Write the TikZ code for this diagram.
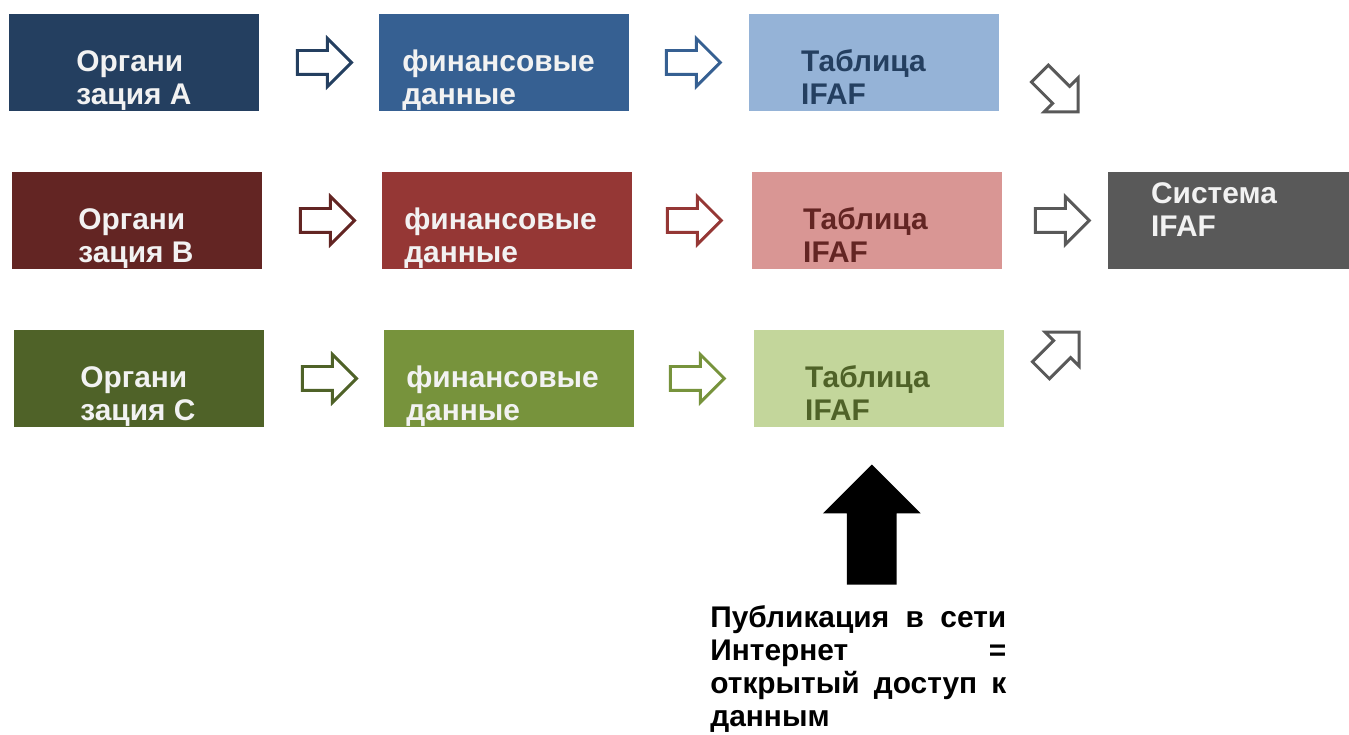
\documentclass[tikz,border=0pt]{standalone}
\usepackage{fontspec}
\setmainfont{Liberation Sans}
\usetikzlibrary{shapes.arrows,positioning}

\definecolor{blueD}{HTML}{243F60}
\definecolor{blueM}{HTML}{366092}
\definecolor{blueL}{HTML}{95B3D7}
\definecolor{redD}{HTML}{632523}
\definecolor{redM}{HTML}{953735}
\definecolor{redL}{HTML}{D99694}
\definecolor{greenD}{HTML}{4F6228}
\definecolor{greenM}{HTML}{77933C}
\definecolor{greenL}{HTML}{C3D69B}
\definecolor{sysgray}{HTML}{595959}
\definecolor{boxtext}{HTML}{F2F2F2}

\tikzset{
  databox/.style={rectangle, minimum width=5cm, minimum height=1.94cm, inner sep=0, outer sep=0, anchor=north west},
  boxlabel/.style={anchor=base west, inner sep=0, align=left, font=\fontsize{17pt}{18.7pt}\selectfont\bfseries},
  blockarrow/.style={single arrow, draw=#1, line width=1.7pt, fill=white, minimum height=1.08cm,
    inner sep=0.21cm, single arrow head extend=0.24cm}
}

\begin{document}
\begin{tikzpicture}[x=0.02cm, y=-0.02cm]
\useasboundingbox (0,0) rectangle (1349,734);

% organisation A
\node [databox, fill=blueD] (orgA) at (9,14) {};
\node [databox, fill=blueM, right=2.4cm of orgA] (finA) {};
\node [databox, fill=blueL, right=2.4cm of finA] (tabA) {};
\node [boxlabel, text=boxtext] (orgAtxt) at ([shift={(67,90)}]orgA.north west) {Органи\\зация A};
\node [boxlabel, text=boxtext] (finAtxt) at ([shift={(23,90)}]finA.north west) {финансовые\\данные};
\node [boxlabel, text=blueD] (tabAtxt) at ([shift={(52,90)}]tabA.north west) {Таблица\\IFAF};

% organisation B
\node [databox, fill=redD] (orgB) at (12,172) {};
\node [databox, fill=redM, right=2.4cm of orgB] (finB) {};
\node [databox, fill=redL, right=2.4cm of finB] (tabB) {};
\node [boxlabel, text=boxtext] (orgBtxt) at ([shift={(66,90)}]orgB.north west) {Органи\\зация B};
\node [boxlabel, text=boxtext] (finBtxt) at ([shift={(22,90)}]finB.north west) {финансовые\\данные};
\node [boxlabel, text=redD] (tabBtxt) at ([shift={(51,90)}]tabB.north west) {Таблица\\IFAF};

% organisation C
\node [databox, fill=greenD] (orgC) at (14,330) {};
\node [databox, fill=greenM, right=2.4cm of orgC] (finC) {};
\node [databox, fill=greenL, right=2.4cm of finC] (tabC) {};
\node [boxlabel, text=boxtext] (orgCtxt) at ([shift={(66,90)}]orgC.north west) {Органи\\зация C};
\node [boxlabel, text=boxtext] (finCtxt) at ([shift={(22,90)}]finC.north west) {финансовые\\данные};
\node [boxlabel, text=greenD] (tabCtxt) at ([shift={(51,90)}]tabC.north west) {Таблица\\IFAF};

% system
\node [databox, fill=sysgray, minimum width=4.86cm, right=2.12cm of tabB] (sys) {};
\node [boxlabel, text=boxtext] (systxt) at ([shift={(43,64)}]sys.north west) {Система\\IFAF};

% arrows between boxes
\node [blockarrow=blueD, right=0.74cm of orgA] (arrA1) {};
\node [blockarrow=blueM, right=0.72cm of finA] (arrA2) {};
\node [blockarrow=redD, right=0.74cm of orgB] (arrB1) {};
\node [blockarrow=redM, right=0.68cm of finB] (arrB2) {};
\node [blockarrow=greenD, right=0.74cm of orgC] (arrC1) {};
\node [blockarrow=greenM, right=0.7cm of finC] (arrC2) {};

% arrows to system
\node [blockarrow=sysgray, rotate=-45] (arrA3) at ([shift={(56,26)}]tabA.east) {};
\node [blockarrow=sysgray, right=0.64cm of tabB] (arrB3) {};
\node [blockarrow=sysgray, rotate=45] (arrC3) at ([shift={(52,-23)}]tabC.east) {};

% publication
\node [single arrow, fill=black, rotate=90, minimum height=2.4cm, inner sep=0.49cm,
  single arrow head extend=0.48cm] (pubarrow) at ([shift={(-7,110)}]tabC.south) {};
\node [anchor=base west, inner sep=0, text width=5.92cm, align=left,
  font=\fontsize{17pt}{18.9pt}\selectfont\bfseries] (pubtxt) at (710,627)
  {Публикация\hfill в\hfill сети\\Интернет\hfill =\\открытый\hfill доступ\hfill к\\данным};
\end{tikzpicture}
\end{document}
